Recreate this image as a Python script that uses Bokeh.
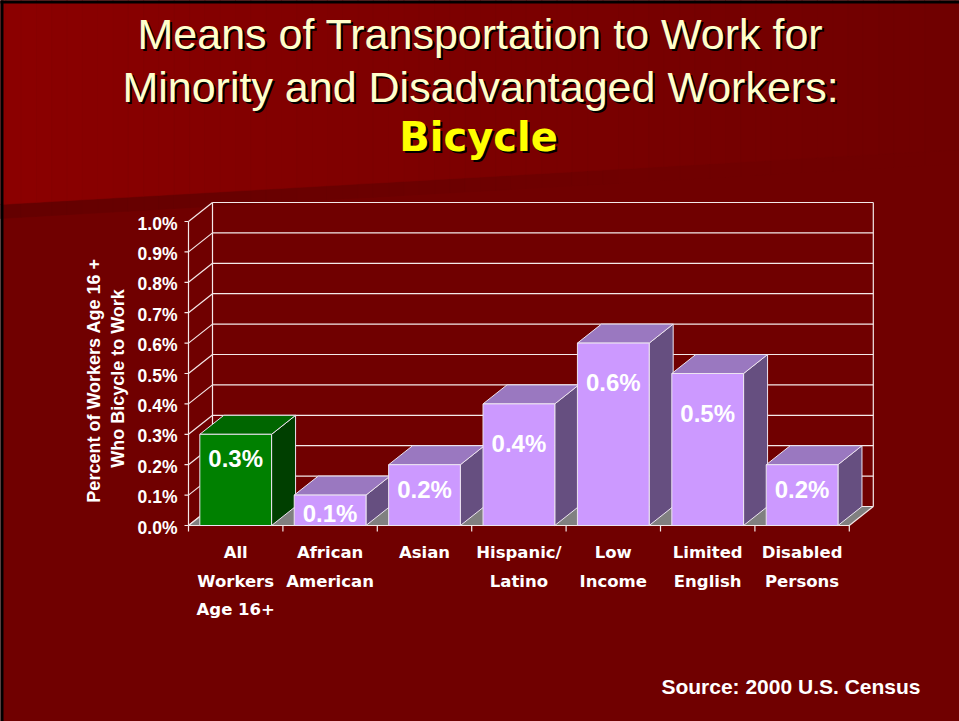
from bokeh.plotting import figure
from bokeh.models import Range1d
from bokeh.core.properties import value
from bokeh.embed import file_html
from bokeh.resources import INLINE

# ---------------- data ----------------
categories = ["All\nWorkers\nAge 16+", "African\nAmerican", "Asian", "Hispanic/\nLatino",
              "Low\nIncome", "Limited\nEnglish", "Disabled\nPersons"]
percent = [0.3, 0.1, 0.2, 0.4, 0.6, 0.5, 0.2]
value_labels = ["0.3%", "0.1%", "0.2%", "0.4%", "0.6%", "0.5%", "0.2%"]
y_ticks = [0.0, 0.1, 0.2, 0.3, 0.4, 0.5, 0.6, 0.7, 0.8, 0.9, 1.0]
y_tick_labels = ["0.0%", "0.1%", "0.2%", "0.3%", "0.4%", "0.5%", "0.6%", "0.7%", "0.8%", "0.9%", "1.0%"]
title_lines = ["Means of Transportation to Work for", "Minority and Disadvantaged Workers:"]
subtitle = "Bicycle"
y_title_lines = ["Percent of Workers Age 16 +", "Who Bicycle to Work"]
source_note = "Source: 2000 U.S. Census"

# ---------------- layout (reference pixel geometry) ----------------
W, H, OFF = 959, 721, 0
X0, CW = 188.0, 94.4      # left of category 0, pixels per category
Y0, VS = 525.0, 304.0     # pixel of 0.0 %, pixels per 1.0 %


def fx(X):
    return (X - X0) / CW


def fy(Y):
    return (Y0 - Y) / VS


DX = 24.0 / CW
DY = 19.0 / VS
N = len(percent)
BL, BR = 0.12, 0.88

BG = "#700000"
p = figure(width=W, height=H, output_backend="svg", toolbar_location=None,
           x_range=Range1d(fx(OFF), fx(OFF + W)), y_range=Range1d(fy(OFF + H), fy(OFF)),
           x_axis_location=None, y_axis_location=None, min_border=0,
           background_fill_color=BG, border_fill_color=BG, outline_line_color=None)
p.grid.visible = False


def lerp_col(c1, c2, t):
    t = max(0.0, min(1.0, t))
    a = [int(c1[i:i + 2], 16) for i in (1, 3, 5)]
    b = [int(c2[i:i + 2], 16) for i in (1, 3, 5)]
    return "#%02x%02x%02x" % tuple(round(a[k] + (b[k] - a[k]) * t) for k in range(3))


# upper lighter band with horizontal gradient
def edge(X):
    return 204.0 - 0.057 * X


xs_b, ys_b, cols_b = [], [], []
xs_s, ys_s, cols_s = [], [], []
NS = 64
for k in range(NS):
    a = -10 + (980.0 * k) / NS
    b = -10 + (980.0 * (k + 1)) / NS
    mid = max(0.0, (a + b) / 2)
    xs_b.append([fx(a), fx(b), fx(b), fx(a)])
    ys_b.append([fy(-10), fy(-10), fy(edge(b)), fy(edge(a))])
    cols_b.append(lerp_col("#8c0000", BG, (mid / 940.0) ** 0.85))
    xs_s.append([fx(a), fx(b), fx(b), fx(a)])
    ys_s.append([fy(edge(a)), fy(edge(b)), fy(edge(b) + 14), fy(edge(a) + 14)])
    cols_s.append(lerp_col("#640000", BG, mid / 650.0))
p.patches(xs_s, ys_s, fill_color=cols_s, line_color=cols_s, line_width=0.5)
p.patches(xs_b, ys_b, fill_color=cols_b, line_color=cols_b, line_width=0.5)

# slide border (top and left)
p.quad(left=[fx(-5), fx(-5)], right=[fx(970), fx(3)], top=[fy(-5), fy(-5)], bottom=[fy(3), fy(730)],
       fill_color="black", line_color=None)

# ---------------- 3D walls ----------------
LINE = "#f4e8e8"
gx0, gy0, gx1, gy1 = [], [], [], []
for v in y_ticks[1:]:
    gx0.append(DX); gy0.append(v + DY); gx1.append(N + DX); gy1.append(v + DY)
for v in y_ticks:
    gx0.append(0); gy0.append(v); gx1.append(DX); gy1.append(v + DY)
    gx0.append(-4.0 / CW); gy0.append(v); gx1.append(0); gy1.append(v)
top = y_ticks[-1]
gx0 += [0, DX, N + DX]
gy0 += [0, DY, DY]
gx1 += [0, DX, N + DX]
gy1 += [top, top + DY, top + DY]
p.segment(gx0, gy0, gx1, gy1, line_color=LINE, line_width=1.2)

# floor
p.patch([0, N, N + DX, DX], [0, 0, DY, DY], fill_color="#808080", line_color=LINE, line_width=1.2)
p.segment(list(range(N + 1)), [0] * (N + 1), list(range(N + 1)), [-6.0 / VS] * (N + 1),
          line_color=LINE, line_width=1.2)

# ---------------- bars ----------------
front_c = ["#008000"] + ["#cc99ff"] * (N - 1)
top_c = ["#006600"] + ["#9a78c0"] * (N - 1)
side_c = ["#003f00"] + ["#664f80"] * (N - 1)
side_xs, side_ys, top_xs, top_ys = [], [], [], []
for i, v in enumerate(percent):
    l, r = i + BL, i + BR
    side_xs.append([r, r, r + DX, r + DX])
    side_ys.append([0, v, v + DY, DY])
    top_xs.append([l, r, r + DX, l + DX])
    top_ys.append([v, v, v + DY, v + DY])
p.patches(side_xs, side_ys, fill_color=side_c, line_color="#ece4f0", line_width=1)
p.patches(top_xs, top_ys, fill_color=top_c, line_color="#ece4f0", line_width=1)
p.quad(left=[i + BL for i in range(N)], right=[i + BR for i in range(N)],
       bottom=[0] * N, top=percent, fill_color=front_c, line_color="#ece4f0", line_width=1)

# value labels
lab_y = [max(v - (0.08 if v <= 0.3 else 0.13), 0.04) for v in percent]
p.text([i + 0.5 for i in range(N)], lab_y, text=value_labels, text_color="white",
       text_font=value("Liberation Sans"), text_font_style="bold", text_font_size="24px",
       text_align="center", text_baseline="middle")

# y tick labels
p.text([fx(177)] * len(y_ticks), y_ticks, text=y_tick_labels, y_offset=2, text_color="white",
       text_font=value("Liberation Sans"), text_font_style="bold", text_font_size="17.5px",
       text_align="right", text_baseline="middle")

# category labels
cx, cy, ct = [], [], []
for i, c in enumerate(categories):
    for j, line in enumerate(c.split("\n")):
        cx.append(i + 0.5)
        cy.append(fy(552 + 28.5 * j))
        ct.append(line)
p.text(cx, cy, text=ct, text_color="white", text_font=value("DejaVu Sans"),
       text_font_style="bold", text_font_size="16.5px", text_align="center", text_baseline="middle")

# y axis title (rotated)
p.text([fx(93), fx(117)], [fy(380), fy(378)], text=y_title_lines, angle=1.5707963,
       text_color="white", text_font=value("Liberation Sans"), text_font_style="bold",
       text_font_size="18px", text_align="center", text_baseline="middle")

# title with shadow
ty = [33.5, 86.0]
p.text([fx(482), fx(482)], [fy(t + 2) for t in ty], text=title_lines, text_color="black",
       text_font=value("Liberation Sans"), text_font_size="43px", text_align="center",
       text_baseline="middle")
p.text([fx(480), fx(480)], [fy(t) for t in ty], text=title_lines, text_color="#ffffcc",
       text_font=value("Liberation Sans"), text_font_size="43px", text_align="center",
       text_baseline="middle")
p.text([fx(480)], [fy(138.0)], text=[subtitle], text_color="black",
       text_font=value("DejaVu Sans"), text_font_style="bold", text_font_size="40px",
       text_align="center", text_baseline="middle")
p.text([fx(478)], [fy(136.0)], text=[subtitle], text_color="#ffff00",
       text_font=value("DejaVu Sans"), text_font_style="bold", text_font_size="40px",
       text_align="center", text_baseline="middle")

# source
p.text([fx(920)], [fy(686)], text=[source_note], text_color="white",
       text_font=value("Liberation Sans"), text_font_style="bold", text_font_size="21px",
       text_align="right", text_baseline="middle")

open("out.html", "w").write(file_html(p, INLINE))
